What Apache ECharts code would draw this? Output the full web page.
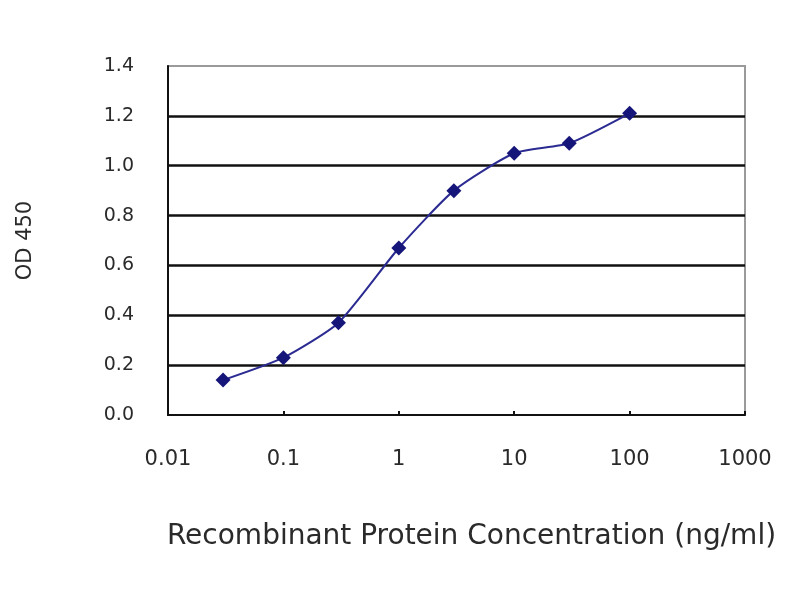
<!DOCTYPE html>
<html>
<head>
<meta charset="utf-8">
<script src="https://cdn.jsdelivr.net/npm/echarts@6/dist/echarts.min.js"></script>
<style>html,body{margin:0;padding:0;background:#fff;}#c{width:800px;height:600px;}</style>
</head>
<body>
<div id="c"></div>
<script>
var concentrations = [0.03, 0.1, 0.3, 1, 3, 10, 30, 100];
var odValues = [0.14, 0.23, 0.37, 0.67, 0.90, 1.05, 1.09, 1.21];
var xTickLabels = ['0.01', '0.1', '1', '10', '100', '1000'];
var yTickLabels = ['0.0', '0.2', '0.4', '0.6', '0.8', '1.0', '1.2', '1.4'];
var xTitle = 'Recombinant Protein Concentration (ng/ml)';
var yTitle = 'OD 450';

var chart = echarts.init(document.getElementById('c'));
var font = 'DejaVu Sans';
chart.setOption({
  backgroundColor: '#fff',
  animation: false,
  grid: {
    left: 168, right: 55, top: 66, bottom: 185,
    show: true, borderColor: '#9a9a9a', borderWidth: 2, backgroundColor: 'transparent'
  },
  xAxis: {
    type: 'log', logBase: 10, min: 0.01, max: 1000,
    name: xTitle, nameLocation: 'middle', nameGap: 108,
    nameTextStyle: { fontFamily: font, fontSize: 28, color: '#2a2a2a', padding: [0, 0, 0, 30] },
    axisLine: { show: true, lineStyle: { color: '#111', width: 2 } },
    axisTick: { show: true, inside: true, length: 4, lineStyle: { color: '#111', width: 2 } },
    minorTick: { show: false },
    splitLine: { show: false },
    axisLabel: {
      margin: 34, fontFamily: font, fontSize: 21, color: '#2a2a2a',
      formatter: function (v) {
        var i = Math.round(Math.log10(v) + 2);
        return xTickLabels[i] !== undefined ? xTickLabels[i] : '';
      }
    }
  },
  yAxis: {
    type: 'value', min: 0, max: 1.4, interval: 0.2,
    name: yTitle, nameLocation: 'middle', nameGap: 132, nameRotate: 90,
    nameTextStyle: { fontFamily: font, fontSize: 21, color: '#2a2a2a' },
    axisLine: { show: true, lineStyle: { color: '#111', width: 2 } },
    axisTick: { show: false },
    splitLine: { show: true, showMinLine: false, showMaxLine: false, lineStyle: { color: '#111', width: 2.5 } },
    axisLabel: {
      margin: 34, fontFamily: font, fontSize: 19, color: '#2a2a2a',
      formatter: function (v) {
        var i = Math.round(v / 0.2);
        return yTickLabels[i] !== undefined ? yTickLabels[i] : '';
      }
    }
  },
  series: [{
    type: 'line',
    data: concentrations.map(function (c, i) { return [c, odValues[i]]; }),
    smooth: 0.2,
    symbol: 'diamond', symbolSize: 15,
    itemStyle: { color: '#16167a' },
    lineStyle: { color: '#2b2b92', width: 2 }
  }]
});
</script>
</body>
</html>
